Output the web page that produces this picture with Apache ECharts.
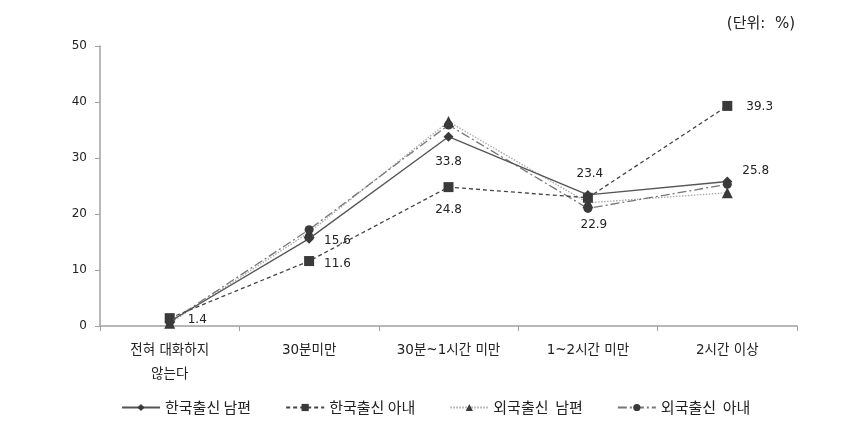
<!DOCTYPE html>
<html><head><meta charset="utf-8">
<script src="https://cdn.jsdelivr.net/npm/echarts@6/dist/echarts.min.js"></script>
<style>html,body{margin:0;padding:0;background:#fff}#c{width:866px;height:424px}</style>
</head><body><div id="c"></div>
<script>
var categories = ['전혀 대화하지\n않는다', '30분미만', '30분~1시간 미만', '1~2시간 미만', '2시간 이상'];
var seriesNames = ['한국출신 남편', '한국출신 아내', '외국출신  남편', '외국출신  아내'];
var krHusband = [0.8, 15.6, 33.8, 23.4, 25.8];
var krWife = [1.4, 11.6, 24.8, 22.9, 39.3];
var fgHusband = [0.5, 16.7, 36.5, 22.0, 23.8];
var fgWife = [0.7, 17.2, 35.9, 21.0, 25.3];
var yTicks = [0, 10, 20, 30, 40, 50];

var FONT = "'Noto Sans CJK KR', 'Noto Sans', sans-serif";
var NUMFONT = "'DejaVu Sans', 'Noto Sans CJK KR', sans-serif";
var MK = '#3a3a3a';
var lbl = {color: '#222', fontSize: 12, fontFamily: NUMFONT};

function pt(v, pos, off) {
  return {value: v, label: Object.assign({show: true, position: pos, distance: 0, offset: off || [0, 0], formatter: function(p){return p.value.toFixed(1);}}, lbl)};
}
function plain(v){ return {value: v}; }

var chart = echarts.init(document.getElementById('c'));
chart.setOption({
  animation: false,
  textStyle: {fontFamily: FONT},
  grid: {left: 100, right: 69, top: 46, bottom: 98, containLabel: false},
  graphic: [{type: 'text', right: 71, top: 17, style: {text: '(단위:  %)', fontSize: 15, fill: '#222', fontFamily: NUMFONT}}],
  legend: {
    bottom: 4, left: 116, itemWidth: 38, itemHeight: 9, itemGap: 34,
    textStyle: {fontSize: 15, color: '#222', fontFamily: FONT},
    data: seriesNames
  },
  xAxis: {
    type: 'category', data: categories, boundaryGap: true,
    axisLine: {lineStyle: {color: '#a0a0a0', width: 1.5}},
    axisTick: {show: true, length: 5, alignWithLabel: false, lineStyle: {color: '#a0a0a0'}},
    axisLabel: {color: '#222', fontSize: 13.5, lineHeight: 24, margin: 12, interval: 0, fontFamily: NUMFONT}
  },
  yAxis: {
    type: 'value', min: 0, max: 50, interval: 10,
    axisLine: {show: true, lineStyle: {color: '#a0a0a0', width: 1.5}},
    axisTick: {show: true, length: 5, lineStyle: {color: '#a0a0a0'}},
    splitLine: {show: false},
    axisLabel: {color: '#222', fontSize: 12, margin: 13, fontFamily: NUMFONT,
      formatter: function(v){ return yTicks.indexOf(v) >= 0 ? String(v) : ''; }}
  },
  series: [
    {
      name: seriesNames[0], type: 'line', symbol: 'diamond', symbolSize: 10, z: 5,
      lineStyle: {color: '#555', width: 1.3, type: 'solid'}, itemStyle: {color: MK},
      data: [plain(krHusband[0]), pt(krHusband[1], 'right', [10, 2]), pt(krHusband[2], 'bottom', [0, 14]),
             pt(krHusband[3], 'top', [2, -10]), pt(krHusband[4], 'right', [10, -11])]
    },
    {
      name: seriesNames[1], type: 'line', symbol: 'rect', symbolSize: 10, z: 4,
      lineStyle: {color: '#444', width: 1.3, type: [4, 3]}, itemStyle: {color: MK},
      data: [pt(krWife[0], 'right', [13, 2]), pt(krWife[1], 'right', [10, 3]), pt(krWife[2], 'bottom', [0, 12]),
             pt(krWife[3], 'bottom', [6, 16]), pt(krWife[4], 'right', [14, 1])]
    },
    {
      name: seriesNames[2], type: 'line', symbol: 'triangle', symbolSize: 11, z: 3,
      lineStyle: {color: '#a8a8a8', width: 1.3, type: [1.5, 1.5]}, itemStyle: {color: MK},
      data: fgHusband.map(plain)
    },
    {
      name: seriesNames[3], type: 'line', symbol: 'circle', symbolSize: 9, z: 3,
      lineStyle: {color: '#777', width: 1.3, type: [9, 3, 2, 3]}, itemStyle: {color: MK},
      data: fgWife.map(plain)
    }
  ]
});
</script></body></html>
